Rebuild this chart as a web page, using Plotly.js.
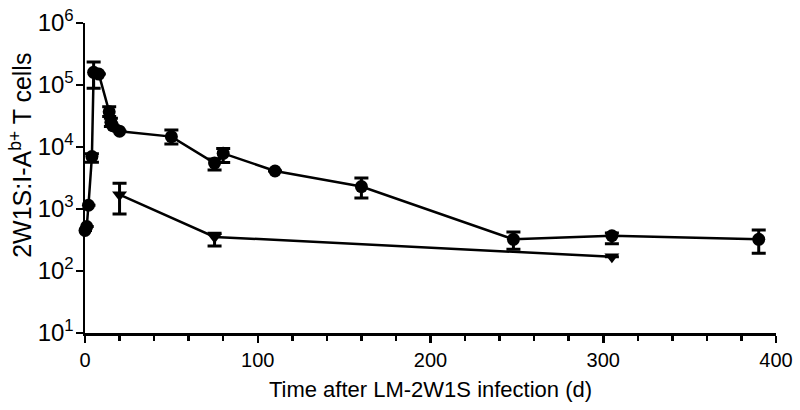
<!DOCTYPE html>
<html>
<head>
<meta charset="utf-8">
<script src="https://cdn.plot.ly/plotly-3.0.1.min.js"></script>
<style>html,body{margin:0;padding:0;background:#fff;}#chart{width:800px;height:410px;}</style>
</head>
<body>
<div id="chart"></div>
<script>
// Circle series (primary)
const circleDays   = [0, 1, 2, 4, 5, 8, 14, 15, 16, 20, 50, 75, 80, 110, 160, 248, 305, 390];
const circleValues = [450, 520, 1150, 7000, 160000, 150000, 37000, 25000, 22000, 18000, 14700, 5500, 7900, 4100, 2300, 324, 370, 324];
const circleErrUp  = [0, 0, 0, 800, 75000, 0, 7700, 4000, 0, 0, 4100, 900, 1600, 0, 850, 100, 40, 136];
const circleErrDn  = [0, 0, 0, 1300, 71000, 0, 6100, 3500, 0, 0, 3500, 1230, 2300, 0, 800, 100, 95, 130];

// Triangle series (secondary)
const triDays   = [20, 75, 305];
const triValues = [1700, 355, 170];
const triErrUp  = [900, 50, 0];
const triErrDn  = [870, 103, 0];

// Axis ticks and titles
const yTickVals = [10, 100, 1000, 10000, 100000, 1000000];
const yTickText = ['10<sup>1</sup>', '10<sup>2</sup>', '10<sup>3</sup>', '10<sup>4</sup>', '10<sup>5</sup>', '10<sup>6</sup>'];
const xTickVals = [0, 100, 200, 300, 400];
const xTitle = 'Time after LM-2W1S infection (d)';
const yTitle = '2W1S:I-A<sup>b+</sup> T cells';

const errStyle = (up, dn) => ({type: 'data', symmetric: false, array: up, arrayminus: dn,
  color: '#000', thickness: 3, width: 7});

const traces = [
  {x: circleDays, y: circleValues, type: 'scatter', mode: 'lines+markers', cliponaxis: false,
   line: {color: '#000', width: 2.5},
   marker: {symbol: 'circle', size: 13, color: '#000'},
   error_y: errStyle(circleErrUp, circleErrDn)},
  {x: triDays, y: triValues, type: 'scatter', mode: 'lines+markers', cliponaxis: false,
   line: {color: '#000', width: 2.5},
   marker: {symbol: 'triangle-down', size: 13, color: '#000'},
   error_y: errStyle(triErrUp, triErrDn)}
];

const layout = {
  width: 800, height: 410,
  margin: {l: 85, r: 24, t: 23, b: 77},
  paper_bgcolor: '#fff', plot_bgcolor: '#fff',
  showlegend: false,
  font: {family: 'Liberation Sans, Arial, sans-serif', color: '#000'},
  xaxis: {
    range: [0, 400], tickvals: xTickVals, ticks: 'outside', ticklen: 7, tickwidth: 2.5,
    tickcolor: '#000', showline: true, linecolor: '#000', linewidth: 2.5,
    showgrid: false, zeroline: false, tickfont: {size: 20},
    minor: {dtick: 20, ticks: 'outside', ticklen: 5, tickwidth: 2.5, tickcolor: '#000', showgrid: false},
    title: {text: xTitle, font: {size: 22}, standoff: 12}
  },
  yaxis: {
    type: 'log', range: [1, 6], tickvals: yTickVals, ticktext: yTickText,
    ticks: 'outside', ticklen: 7, tickwidth: 2.5, tickcolor: '#000',
    showline: true, linecolor: '#000', linewidth: 2.5, ticklabelstandoff: -3,
    showgrid: false, zeroline: false, tickfont: {size: 24}
  },
  annotations: [{
    text: yTitle, textangle: -90, showarrow: false,
    xref: 'paper', yref: 'paper', x: -0.093, y: 0.574,
    xanchor: 'center', yanchor: 'middle', font: {size: 25}
  }]
};

Plotly.newPlot('chart', traces, layout, {displayModeBar: false, staticPlot: true});
</script>
</body>
</html>
